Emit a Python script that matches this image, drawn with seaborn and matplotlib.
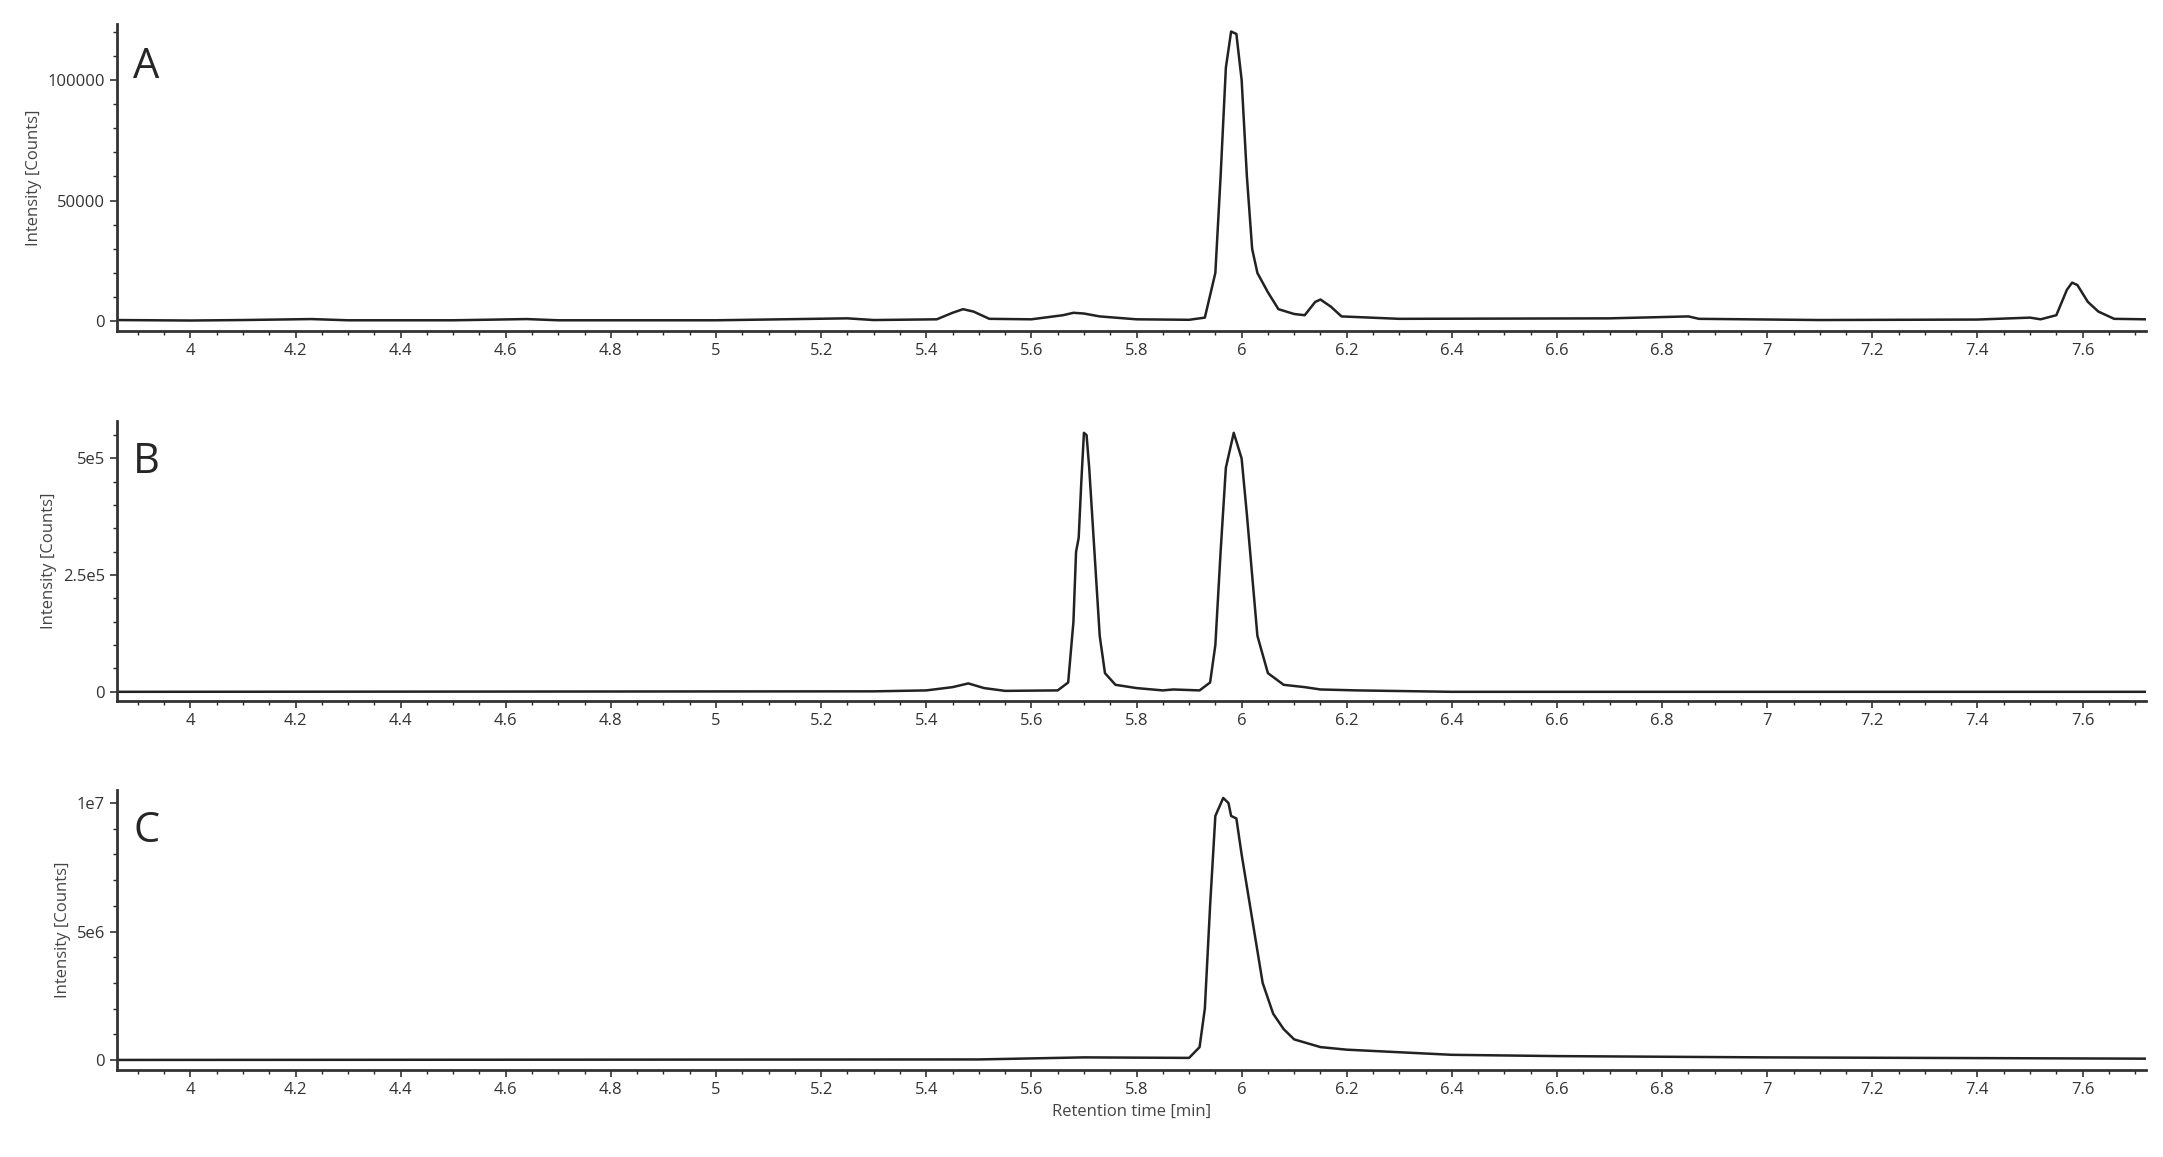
import matplotlib
matplotlib.use("Agg")
import matplotlib.pyplot as plt
from matplotlib.ticker import MultipleLocator, FixedLocator
import seaborn as sns
import pandas as pd

# Chromatogram A (retention time [min], intensity [counts])
t_a = [3.86, 4.0, 4.1, 4.23, 4.3, 4.5, 4.64, 4.7, 5.0, 5.25, 5.3, 5.42, 5.45, 5.47, 5.49, 5.52,
       5.6, 5.66, 5.68, 5.70, 5.73, 5.8, 5.9, 5.93, 5.95, 5.96, 5.97, 5.98, 5.99, 6.0, 6.01, 6.02,
       6.03, 6.05, 6.07, 6.1, 6.12, 6.14, 6.15, 6.17, 6.19, 6.3, 6.7, 6.85, 6.87, 7.1, 7.4, 7.5,
       7.52, 7.55, 7.57, 7.58, 7.59, 7.61, 7.63, 7.66, 7.72]
y_a = [500, 300, 500, 900, 400, 400, 900, 400, 400, 1200, 500, 800, 3500, 5000, 4000, 1000,
       800, 2500, 3500, 3200, 2000, 800, 600, 1500, 20000, 60000, 105000, 120000, 119000, 100000, 60000, 30000,
       20000, 12000, 5000, 3000, 2500, 8000, 9000, 6000, 2000, 1000, 1200, 2000, 1000, 500, 700, 1500,
       800, 2500, 13000, 16000, 15000, 8000, 4000, 1000, 800]

# Chromatogram B
t_b = [3.86, 5.3, 5.40, 5.45, 5.48, 5.51, 5.55, 5.65, 5.67, 5.68, 5.685, 5.69, 5.695, 5.70, 5.705,
       5.71, 5.72, 5.73, 5.74, 5.76, 5.8, 5.85, 5.87, 5.92, 5.94, 5.95, 5.96, 5.97, 5.985, 6.0,
       6.01, 6.02, 6.03, 6.05, 6.08, 6.12, 6.15, 6.22, 6.4, 7.72]
y_b = [0, 1000, 3000, 10000, 18000, 8000, 2000, 3000, 20000, 150000, 300000, 330000, 450000, 555000, 550000,
       480000, 300000, 120000, 40000, 15000, 8000, 3000, 5000, 3000, 20000, 100000, 300000, 480000, 555000, 500000,
       380000, 250000, 120000, 40000, 15000, 10000, 5000, 3000, 0, 0]

# Chromatogram C
t_c = [3.86, 5.5, 5.7, 5.9, 5.92, 5.93, 5.94, 5.95, 5.965, 5.975, 5.98, 5.99, 6.0, 6.02, 6.04,
       6.06, 6.08, 6.1, 6.15, 6.2, 6.3, 6.4, 6.6, 7.0, 7.72]
y_c = [0, 20000, 100000, 80000, 500000, 2000000, 6000000, 9500000, 10200000, 10000000, 9500000, 9400000,
       8000000, 5500000, 3000000, 1800000, 1200000, 800000, 500000, 400000, 300000, 200000, 150000, 100000, 50000]

panels = [("A", t_a, y_a, (-4000, 123000), [0, 50000, 100000], ["0", "50000", "100000"], 10000),
          ("B", t_b, y_b, (-20000, 580000), [0, 250000, 500000], ["0", "2.5e5", "5e5"], 50000),
          ("C", t_c, y_c, (-400000, 1.05e7), [0, 5e6, 1e7], ["0", "5e6", "1e7"], 1e6)]

sns.set_style("ticks")
plt.rcParams['font.family'] = ['Open Sans', 'DejaVu Sans']
fig = plt.figure(figsize=(21.63, 11.57), dpi=100)
boxes = [[0.054, 0.714, 0.938, 0.265], [0.054, 0.394, 0.938, 0.242], [0.054, 0.075, 0.938, 0.242]]

for (lab, t, y, ylim, yt, ytl, ymin), box in zip(panels, boxes):
    ax = fig.add_axes(box)
    df = pd.DataFrame({"t": t, "y": y})
    sns.lineplot(data=df, x="t", y="y", ax=ax, color="#222222", linewidth=1.8,
                 estimator=None, sort=False)
    ax.set_xlim(3.86, 7.72)
    ax.set_ylim(*ylim)
    ax.set_yticks(yt)
    ax.set_yticklabels(ytl)
    ax.yaxis.set_minor_locator(MultipleLocator(ymin))
    ax.set_xticks([4 + 0.2 * i for i in range(19)])
    ax.set_xticklabels(["4", "4.2", "4.4", "4.6", "4.8", "5", "5.2", "5.4", "5.6", "5.8", "6",
                        "6.2", "6.4", "6.6", "6.8", "7", "7.2", "7.4", "7.6"])
    ax.xaxis.set_minor_locator(MultipleLocator(0.05))
    ax.tick_params(labelsize=12, colors="#333333", length=5, width=1.2)
    ax.tick_params(which="minor", length=3, width=1)
    for s in ["top", "right"]:
        ax.spines[s].set_visible(False)
    for s in ["left", "bottom"]:
        ax.spines[s].set_linewidth(2)
        ax.spines[s].set_color("#333333")
    ax.set_ylabel("Intensity [Counts]", fontsize=12, color="#444444")
    ax.set_xlabel("Retention time [min]" if lab == "C" else "", fontsize=12, color="#444444")
    ax.text(0.008, 0.93, lab, transform=ax.transAxes, fontsize=30, va="top", ha="left")

fig.savefig("out.png", dpi=100)
